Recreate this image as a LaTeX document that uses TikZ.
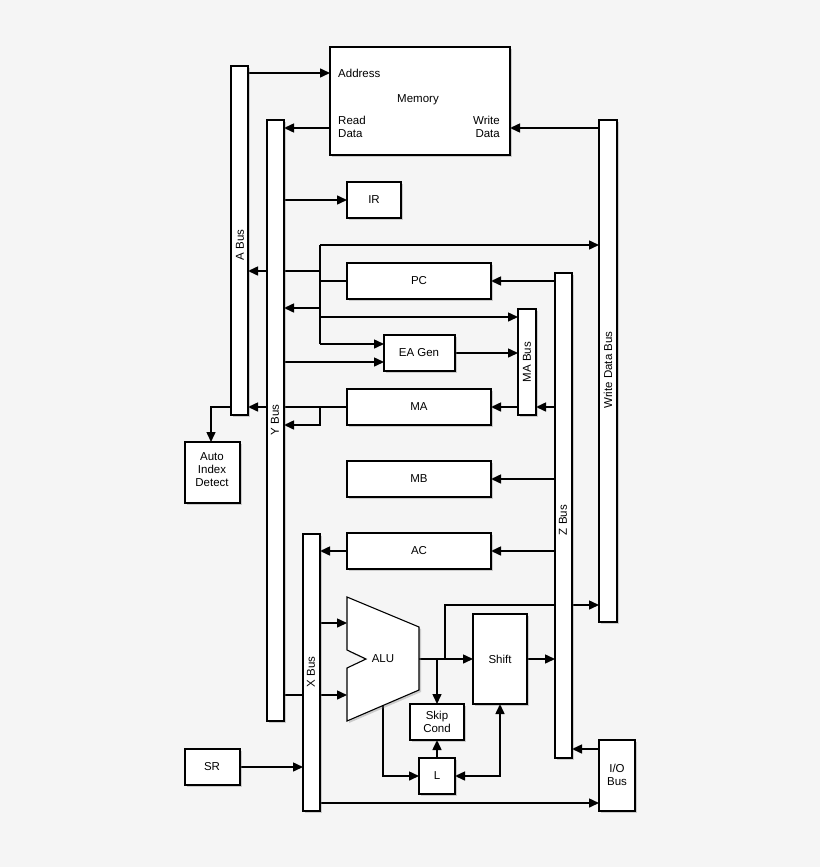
\documentclass[tikz,border=0pt]{standalone}
\usepackage{fontspec}
\setmainfont{Liberation Sans}
\usetikzlibrary{shadows,arrows.meta}
\begin{document}
\begin{tikzpicture}[x=1pt,y=-1pt,
  box/.style={draw,fill=white,line width=1.1pt,drop shadow={opacity=0.35,shadow xshift=2pt,shadow yshift=-2pt}},
  tip/.tip={Triangle[length=10pt,width=9pt]},
  a/.style={-tip,line width=1.5pt},
  l/.style={line width=1.5pt},
  t/.style={font=\fontsize{11.5}{13}\selectfont,align=center,inner sep=0pt}]
\useasboundingbox[fill={rgb,255:red,245;green,245;blue,245}] (0,0) rectangle (820,867);
% connectors first
\draw[a] (248,73) -- (330,73);
\draw[a] (330,128) -- (284,128);
\draw[a] (599,128) -- (510,128);
\draw[a] (284,200) -- (347,200);
\draw[l] (320,245) -- (320,344);
\draw[a] (320,245) -- (599,245);
\draw[a] (320,271) -- (248,271);
\draw[l] (347,281) -- (320,281);
\draw[a] (320,308) -- (284,308);
\draw[a] (320,317) -- (518,317);
\draw[a] (320,344) -- (384,344);
\draw[a] (284,362) -- (384,362);
\draw[a] (455,353) -- (518,353);
\draw[a] (555,281) -- (491,281);
\draw[a] (347,407) -- (248,407);
\draw[a] (320,407) -- (320,425) -- (284,425);
\draw[a] (518,407) -- (491,407);
\draw[a] (555,407) -- (536,407);
\draw[a] (231,407) -- (211,407) -- (211,442);
\draw[a] (555,479) -- (491,479);
\draw[a] (555,551) -- (491,551);
\draw[a] (347,551) -- (320,551);
\draw[a] (320,623) -- (347,623);
\draw[a] (284,695) -- (347,695);
\draw[a] (240,767) -- (303,767);
\draw[a] (419,659) -- (473,659);
\draw[a] (445,659) -- (445,605) -- (599,605);
\draw[a] (437,659) -- (437,704);
\draw[a] (527,659) -- (555,659);
\draw[a] (383,705) -- (383,776) -- (419,776);
\draw[a] (437,758) -- (437,740);
\draw[tip-tip,line width=1.5pt] (455,776) -- (500,776) -- (500,704);
\draw[a] (599,749) -- (572,749);
\draw[a] (320,803) -- (599,803);
% buses
\draw[box] (231,66) rectangle (248,415); \node[t,rotate=90] (abus) at (240,245) {A Bus};
\draw[box] (267,120) rectangle (284,721); \node[t,rotate=90] (ybus) at (275,420) {Y Bus};
\draw[box] (599,120) rectangle (617,622); \node[t,rotate=90] (wbus) at (608,370) {Write Data Bus};
\draw[box] (555,273) rectangle (572,758); \node[t,rotate=90] (zbus) at (563,520) {Z Bus};
\draw[box] (518,309) rectangle (536,415); \node[t,rotate=90] (mabus) at (527,362) {MA Bus};
\draw[box] (303,534) rectangle (320,811); \node[t,rotate=90] (xbus) at (311,672) {X Bus};
% memory
\draw[box] (330,47) rectangle (510,155);
\node[t,anchor=west] (addr) at (338,73) {Address};
\node[t] (mem) at (418,100) {Memory};
\node[t,anchor=west,align=left] (rd) at (338,127) {Read\\Data};
\node[t,anchor=east,align=right] (wd) at (500,127) {Write\\Data};
% boxes
\draw[box] (347,182) rectangle (401,218); \node[t] (ir) at (374,200) {IR};
\draw[box] (347,263) rectangle (491,299); \node[t] (pc) at (419,281) {PC};
\draw[box] (384,335) rectangle (455,371); \node[t] (ea) at (419,353) {EA Gen};
\draw[box] (347,389) rectangle (491,425); \node[t] (ma) at (419,407) {MA};
\draw[box] (347,461) rectangle (491,497); \node[t] (mb) at (419,479) {MB};
\draw[box] (347,533) rectangle (491,569); \node[t] (ac) at (419,551) {AC};
\draw[box] (185,442) rectangle (240,503); \node[t] (aid) at (212,470) {Auto\\Index\\Detect};
\draw[box] (185,749) rectangle (240,785); \node[t] (sr) at (212,767) {SR};
\draw[box] (473,614) rectangle (527,704); \node[t] (sh) at (500,659) {Shift};
\draw[box] (410,704) rectangle (464,740); \node[t] (sk) at (437,722) {Skip\\Cond};
\draw[box] (419,758) rectangle (455,794); \node[t] (L) at (437,776) {L};
\draw[box] (599,740) rectangle (635,811); \node[t] (io) at (617,775) {I/O\\Bus};
\draw[box] (347,597) -- (419,627) -- (419,690) -- (347,721) -- (347,668) -- (366,659) -- (347,650) -- cycle;
\node[t] (alu) at (383,659) {ALU};
\end{tikzpicture}
\end{document}
